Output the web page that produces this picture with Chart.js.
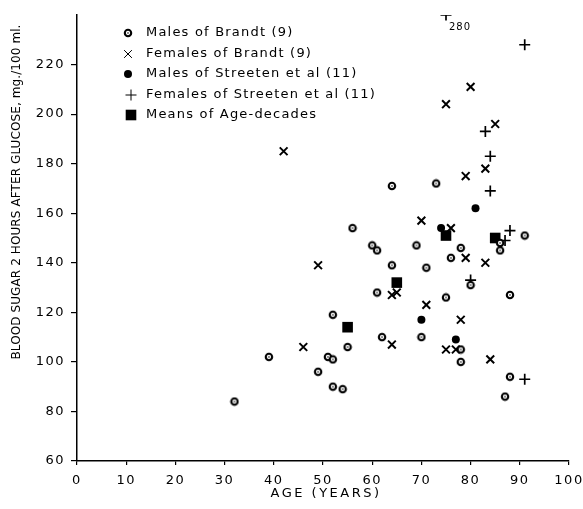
<!DOCTYPE html>
<html>
<head>
<meta charset="utf-8">
<script src="https://cdn.jsdelivr.net/npm/chart.js@4.4.0/dist/chart.umd.min.js"></script>
<style>
  html, body { margin: 0; padding: 0; background: #fff; }
  #wrap { width: 583px; height: 509px; }
</style>
</head>
<body>
<div id="wrap"><canvas id="chart" width="583" height="509"></canvas></div>
<script>
// ages (years) and blood sugar 2 h after glucose (mg/100 ml)
const brandtMaleAge = [32, 39, 49, 51, 52, 52, 54, 52, 55, 56, 60, 61, 61, 62, 64, 64, 69, 71, 73, 70, 75, 76, 78, 78, 78, 80, 86, 86, 88, 88, 87, 91];
const brandtMaleSugar = [84, 102, 96, 102, 101, 90, 89, 119, 106, 154, 147, 145, 128, 110, 171, 139, 147, 138, 172, 110, 126, 142, 146, 105, 100, 131, 148, 145, 127, 94, 86, 151];

const brandtFemaleAge = [42, 49, 46, 64, 65, 64, 70, 76, 79, 83, 71, 78, 75, 77, 84, 75, 80, 85, 83, 79];
const brandtFemaleSugar = [185, 139, 106, 127, 128, 107, 157, 154, 142, 140, 123, 117, 105, 105, 101, 204, 211, 196, 178, 175];

const streetenMaleAge = [81, 74, 70, 77];
const streetenMaleSugar = [162, 154, 117, 109];

const streetenFemaleAge = [75, 91, 83, 84, 84, 88, 87, 80, 91];
const streetenFemaleSugar = [280, 228, 193, 183, 169, 153, 149, 133, 93];

const decadeMeanAge = [55, 65, 75, 85];
const decadeMeanSugar = [114, 132, 151, 150];

const xTicks = [0, 10, 20, 30, 40, 50, 60, 70, 80, 90, 100];
const yTicks = [60, 80, 100, 120, 140, 160, 180, 200, 220];
const yMin = 60, yMax = 240;

const FONT = 'DejaVu Sans';

function pts(xs, ys) {
  return xs.map((x, i) => ({ x: x, y: Math.min(ys[i], yMax), real: ys[i] }));
}

// open circle with a dot in the middle
function ringMark() {
  const c = document.createElement('canvas');
  c.width = 10; c.height = 10;
  const g = c.getContext('2d');
  g.fillStyle = '#fff';
  g.strokeStyle = '#000';
  g.lineWidth = 2.1;
  g.beginPath(); g.arc(5, 5, 3.2, 0, Math.PI * 2); g.fill(); g.stroke();
  g.fillStyle = '#000';
  g.beginPath(); g.arc(5, 5, 0.8, 0, Math.PI * 2); g.fill();
  return c;
}

const datasets = [
  { label: 'Males of Brandt (9)', data: pts(brandtMaleAge, brandtMaleSugar),
    pointStyle: ringMark(), pointRadius: 5, pointBorderWidth: 1, borderColor: '#000', backgroundColor: '#fff' },
  { label: 'Females of Brandt (9)', data: pts(brandtFemaleAge, brandtFemaleSugar),
    pointStyle: 'crossRot', pointRadius: 5.5, pointBorderWidth: 2, borderColor: '#000', backgroundColor: '#000' },
  { label: 'Males of Streeten et al (11)', data: pts(streetenMaleAge, streetenMaleSugar),
    pointStyle: 'circle', pointRadius: 4, pointBorderWidth: 0, borderColor: '#000', backgroundColor: '#000' },
  { label: 'Females of Streeten et al (11)', data: pts(streetenFemaleAge, streetenFemaleSugar),
    pointStyle: 'cross', pointRadius: 5.5, pointBorderWidth: 1.7, borderColor: '#000', backgroundColor: '#000' },
  { label: 'Means of Age-decades', data: pts(decadeMeanAge, decadeMeanSugar),
    pointStyle: 'rect', pointRadius: 7.5, pointBorderWidth: 0, borderColor: '#000', backgroundColor: '#000' }
];

const spacing = {
  id: 'spacing',
  beforeInit(chart) { chart.ctx.letterSpacing = '1.5px'; },
  beforeLayout(chart) { chart.ctx.letterSpacing = '1.5px'; },
  beforeDraw(chart) { chart.ctx.letterSpacing = '1.5px'; }
};

// legend in the upper left, axis titles, and labels for values beyond the axis
const extras = {
  id: 'extras',
  afterDatasetsDraw(chart) {
    const ctx = chart.ctx;
    ctx.save();
    ctx.fillStyle = '#000';
    ctx.strokeStyle = '#000';
    ctx.textBaseline = 'middle';
    ctx.textAlign = 'left';
    const legY = [33, 54, 74, 95, 115];
    chart.data.datasets.forEach((ds, i) => {
      const mx = i >= 3 ? 131 : 128;
      Chart.helpers.drawPoint(ctx, {
        pointStyle: ds.pointStyle, radius: ds.pointRadius,
        borderWidth: ds.pointBorderWidth, rotation: 0
      }, mx, legY[i]);
      ctx.fillStyle = '#000';
      ctx.letterSpacing = '1.2px';
      ctx.font = '13px "' + FONT + '"';
      ctx.fillText(ds.label, 146, legY[i]);
    });

    // values off the top of the scale
    const xs = chart.scales.x, ys = chart.scales.y;
    ctx.font = '10px "' + FONT + '"';
    ctx.letterSpacing = '1px';
    chart.data.datasets.forEach(ds => {
      ds.data.forEach(p => {
        if (p.real > yMax) {
          ctx.fillText(String(p.real), xs.getPixelForValue(p.x) + 3, ys.getPixelForValue(p.y) + 12);
        }
      });
    });

    // x axis title
    ctx.textAlign = 'center';
    ctx.font = '13px "' + FONT + '"';
    ctx.letterSpacing = '2.5px';
    ctx.fillText('AGE (YEARS)', (xs.left + xs.right) / 2 + 3, 494);

    // y axis title
    ctx.font = '12px "' + FONT + '"';
    ctx.letterSpacing = '0.1px';
    ctx.translate(17, 192);
    ctx.rotate(-Math.PI / 2);
    ctx.fillText('BLOOD SUGAR 2 HOURS AFTER GLUCOSE, mg./100 ml.', 0, 0);
    ctx.restore();
  }
};

new Chart(document.getElementById('chart'), {
  type: 'scatter',
  data: { datasets: datasets },
  options: {
    responsive: false,
    animation: false,
    layout: { padding: { top: 15, right: 14, left: 0, bottom: 0 } },
    plugins: { legend: { display: false }, tooltip: { enabled: false } },
    scales: {
      x: {
        type: 'linear', min: 0, max: 100,
        afterBuildTicks: s => { s.ticks = xTicks.map(v => ({ value: v })); },
        afterFit: s => { s.height = 48; s.paddingLeft = 0; s.paddingRight = 0; },
        grid: { drawOnChartArea: false, drawTicks: true, tickLength: 4, color: '#000', lineWidth: 1.2 },
        border: { display: true, color: '#000', width: 1.5 },
        ticks: { color: '#000', padding: 3, maxRotation: 0, font: { family: FONT, size: 13, lineHeight: 1.9 } }
      },
      y: {
        type: 'linear', min: yMin, max: yMax,
        afterBuildTicks: s => { s.ticks = yTicks.map(v => ({ value: v })); },
        afterFit: s => { s.width = 77; s.paddingTop = 0; s.paddingBottom = 0; },
        grid: { drawOnChartArea: false, drawTicks: true, tickLength: 6, color: '#000', lineWidth: 1.2 },
        border: { display: true, color: '#000', width: 1.5 },
        ticks: { color: '#000', padding: 6, font: { family: FONT, size: 13 } }
      }
    }
  },
  plugins: [spacing, extras]
});
</script>
</body>
</html>
